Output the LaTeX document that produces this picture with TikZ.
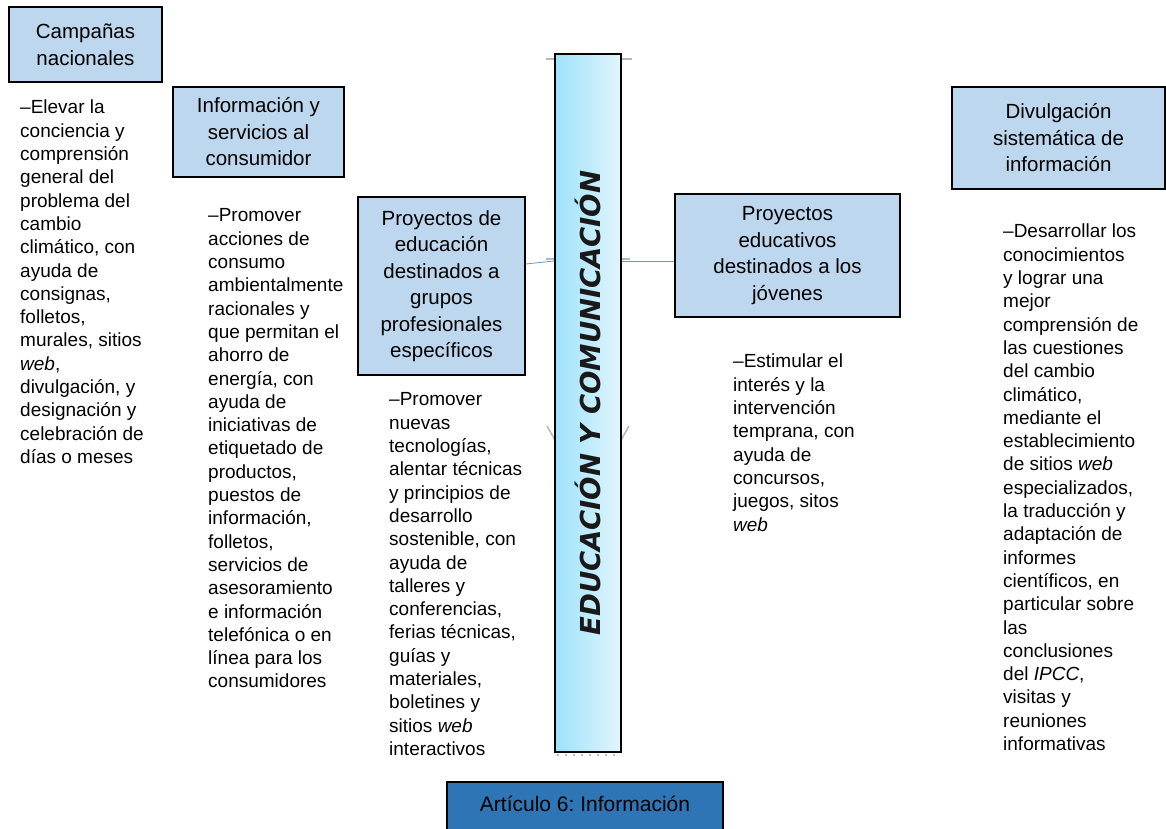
\documentclass[tikz,border=0pt]{standalone}
\usepackage{fontspec}
\setmainfont{Liberation Sans}
\newfontfamily\barfont{DejaVu Sans}
\definecolor{boxblue}{HTML}{BDD7EE}
\definecolor{linkblue}{HTML}{5B9BD5}
\definecolor{artblue}{HTML}{2E75B6}
\definecolor{barleft}{HTML}{9DE2FB}
\definecolor{barright}{HTML}{E2F5FD}
\frenchspacing
\begin{document}
\begin{tikzpicture}[x=1pt,y=-1pt,
  topic/.style={draw=black, line width=1.6pt, fill=boxblue, align=center,
    font=\fontsize{20.5}{26.5}\selectfont, inner sep=0pt},
  body/.style={anchor=north west, align=left, inner sep=0pt,
    font=\fontsize{19}{23.3}\selectfont},
  link/.style={draw=linkblue, line width=0.8pt},
  stub/.style={draw=gray!55, line width=2.5pt}]
\useasboundingbox (0,0) rectangle (1166,829);

% small grey tabs peeking out behind the central bar
\draw[stub] (546,59) -- (556,59);
\draw[stub] (620,59) -- (632,59);
\draw[stub] (546,259) -- (556,259);
\draw[stub] (620,259) -- (630,259);
\draw[stub, line width=1.5pt] (547,426) -- (556,442);
\draw[stub, line width=1.5pt] (620,442) -- (629,426);
\draw[stub, line width=1.5pt, dash pattern=on 2pt off 6pt] (557,755) -- (620,755);

% central bar
\node[draw=black, line width=1.8pt, left color=barleft, right color=barright,
  minimum width=66, minimum height=698, inner sep=0pt] (bar) at (588,403)
  {\rotatebox{90}{\color{black!90}\barfont\bfseries\itshape\fontsize{27.5}{31}\selectfont EDUCACIÓN Y COMUNICACIÓN}};

% topic boxes
\node[topic, minimum width=153, minimum height=75] (camp) at (85.5,44.5)
  {Campañas\\nacionales};
\node[topic, minimum width=171, minimum height=90] (info) at (258.5,132)
  {Información y\\servicios al\\consumidor};
\node[topic, minimum width=167, minimum height=178] (proj) at (441.5,286)
  {Proyectos de\\educación\\destinados a\\grupos\\profesionales\\específicos};
\node[topic, minimum width=225, minimum height=123] (jov) at (787.5,255.5)
  {Proyectos\\educativos\\destinados a los\\jóvenes};
\node[topic, minimum width=213, minimum height=102] (div) at (1058.5,138)
  {Divulgación\\sistemática de\\información};
\node[topic, fill=artblue, minimum width=276, minimum height=58,
  font=\fontsize{21}{25}\selectfont, text height=10pt, text depth=10pt]
  (art) at (585,811) {Artículo 6: Información};

% connectors to the bar
\draw[link] ([yshift=22pt]proj.east) -- ([yshift=142pt]bar.west);
\draw[link] ([yshift=142pt]bar.east) -- ([yshift=-5.5pt]jov.west);

% descriptions
\node[body] (tcamp) at (20,97.4) {\strut –Elevar la\\conciencia y\\comprensión\\general del\\problema del\\cambio\\climático, con\\ayuda de\\consignas,\\folletos,\\murales, sitios\\\textit{web},\\divulgación, y\\designación y\\celebración de\\días o meses};
\node[body] (tinfo) at (208,205.4) {\strut –Promover\\acciones de\\consumo\\ambientalmente\\racionales y\\que permitan el\\ahorro de\\energía, con\\ayuda de\\iniciativas de\\etiquetado de\\productos,\\puestos de\\información,\\folletos,\\servicios de\\asesoramiento\\e información\\telefónica o en\\línea para los\\consumidores};
\node[body] (tproj) at (389,389.4) {\strut –Promover\\nuevas\\tecnologías,\\alentar técnicas\\y principios de\\desarrollo\\sostenible, con\\ayuda de\\talleres y\\conferencias,\\ferias técnicas,\\guías y\\materiales,\\boletines y\\sitios \textit{web}\\interactivos};
\node[body] (tjov) at (733,351.4) {\strut –Estimular el\\interés y la\\intervención\\temprana, con\\ayuda de\\concursos,\\juegos, sitos\\\textit{web}};
\node[body] (tdiv) at (1003,221.4) {\strut –Desarrollar los\\conocimientos\\y lograr una\\mejor\\comprensión de\\las cuestiones\\del cambio\\climático,\\mediante el\\establecimiento\\de sitios \textit{web}\\especializados,\\la traducción y\\adaptación de\\informes\\científicos, en\\particular sobre\\las\\conclusiones\\del \textit{IPCC},\\visitas y\\reuniones\\informativas};
\end{tikzpicture}
\end{document}
